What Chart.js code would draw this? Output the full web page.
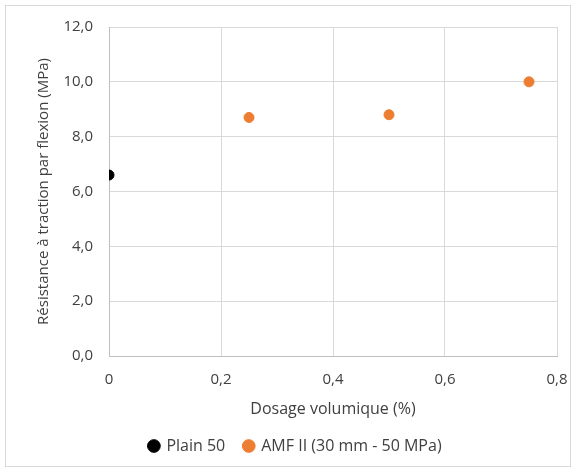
<!DOCTYPE html>
<html>
<head>
<meta charset="utf-8">
<script src="https://cdn.jsdelivr.net/npm/chart.js@4"></script>
<style>
  html, body { margin: 0; padding: 0; background: #fff; }
  #wrap { position: absolute; left: 5px; top: 5px; width: 566px; height: 462px; border: 1px solid #d9d9d9; box-sizing: border-box; }
  canvas { display: block; }
</style>
</head>
<body>
<div id="wrap"><canvas id="chart"></canvas></div>
<script>
"use strict";

// Values
const plainX = [0];
const plainY = [6.6];
const amfX = [0.25, 0.5, 0.75];
const amfY = [8.7, 8.8, 10.0];
const seriesNames = ["Plain 50", "AMF II (30 mm - 50 MPa)"];
const xTitle = "Dosage volumique (%)";
const yTitle = "Résistance à traction par flexion (MPa)";

const toPoints = (xs, ys) => xs.map((x, i) => ({ x, y: ys[i] }));
const comma = (v, d) => v.toFixed(d).replace(".", ",");

const family = "'Open Sans', 'Liberation Sans', sans-serif";
const tickFont = { family, size: 15 };
const titleFont = { family, size: 16 };
const textColor = "#404040";

// Nudge the legend a little right, like the original layout.
const legendShift = {
  id: "legendShift",
  afterUpdate(chart) {
    if (chart.legend) { chart.legend.left += 14; chart.legend.right += 14; }
  },
};

new Chart(document.getElementById("chart"), {
  type: "scatter",
  data: {
    datasets: [
      { label: seriesNames[0], data: toPoints(plainX, plainY), backgroundColor: "#000000", borderColor: "#000000", pointRadius: 5, pointHoverRadius: 5 },
      { label: seriesNames[1], data: toPoints(amfX, amfY), backgroundColor: "#ed7d31", borderColor: "#ed7d31", pointRadius: 5, pointHoverRadius: 5 },
    ],
  },
  options: {
    responsive: true,
    maintainAspectRatio: false,
    animation: false,
    layout: { padding: { top: 21, right: 13, left: 0, bottom: 2 } },
    plugins: {
      tooltip: { enabled: false },
      legend: {
        position: "bottom",
        labels: { usePointStyle: true, pointStyle: "circle", boxWidth: 9, boxHeight: 9, color: textColor, font: titleFont, padding: 19 },
      },
    },
    scales: {
      x: {
        type: "linear", min: 0, max: 0.8,
        afterFit: (s) => { s.height = 63; s.paddingLeft = 0; s.paddingRight = 0; },
        ticks: { stepSize: 0.2, color: textColor, font: tickFont, padding: 15, callback: (v) => (v === 0 ? "0" : comma(v, 1)) },
        grid: { color: "#d9d9d9", drawTicks: false },
        border: { color: "#bfbfbf" },
        title: { display: true, text: xTitle, color: textColor, font: titleFont, padding: { top: 5, bottom: 0 } },
      },
      y: {
        min: 0, max: 12,
        afterFit: (s) => { s.width = 103; s.paddingTop = 0; s.paddingBottom = 0; },
        ticks: { stepSize: 2, color: textColor, font: tickFont, padding: 16, callback: (v) => comma(v, 1) },
        grid: { color: "#d9d9d9", drawTicks: false },
        border: { color: "#bfbfbf" },
        title: { display: true, text: yTitle, color: textColor, font: tickFont, padding: { top: 29, bottom: 0 } },
      },
    },
  },
  plugins: [legendShift],
});
</script>
</body>
</html>
